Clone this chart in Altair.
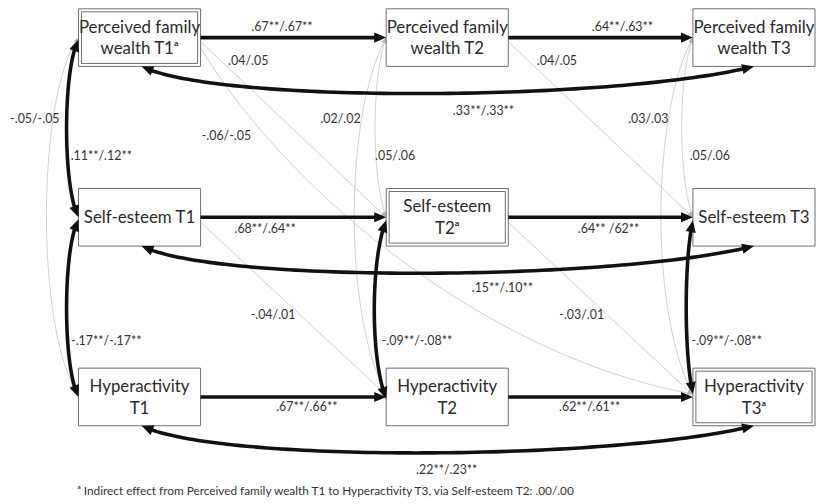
import math
import altair as alt
import pandas as pd

# ------------------------------------------------------------------ content
node_ids = ["PFW1", "PFW2", "PFW3", "SE1", "SE2", "SE3", "HY1", "HY2", "HY3"]
node_labels = [
    "Perceived family\nwealth T1ᵃ", "Perceived family\nwealth T2", "Perceived family\nwealth T3",
    "Self-esteem T1", "Self-esteem\nT2ᵃ", "Self-esteem T3",
    "Hyperactivity\nT1", "Hyperactivity\nT2", "Hyperactivity\nT3ᵃ",
]
node_marked = [True, False, False, False, True, False, False, False, True]

path_from = ["PFW1", "PFW2", "SE1", "SE2", "HY1", "HY2",
             "PFW1", "SE1", "HY1", "PFW1", "SE1",
             "PFW1", "PFW2", "PFW2", "SE2", "PFW3", "PFW3", "SE3",
             "PFW1", "PFW1", "SE1", "PFW2", "SE2"]
path_to = ["PFW2", "PFW3", "SE2", "SE3", "HY2", "HY3",
           "PFW3", "SE3", "HY3", "SE1", "HY1",
           "HY1", "SE2", "HY2", "HY2", "SE3", "HY3", "HY3",
           "SE2", "HY3", "HY2", "SE3", "HY3"]
path_type = ["reg"] * 6 + ["cov"] * 12 + ["reg"] * 5
path_significant = [True] * 11 + [False, False, False, True, False, False, True] + [False] * 5
path_coef = [".67**/.67**", ".64**/.63**", ".68**/.64**", ".64** /62**", ".67**/.66**", ".62**/.61**",
             ".33**/.33**", ".15**/.10**", ".22**/.23**", ".11**/.12**", "-.17**/-.17**",
             "-.05/-.05", ".05/.06", ".02/.02", "-.09**/-.08**", ".05/.06", ".03/.03", "-.09**/-.08**",
             ".04/.05", "-.06/-.05", "-.04/.01", ".04/.05", "-.03/.01"]
footnote = "ᵃ Indirect effect from Perceived family wealth T1 to Hyperactivity T3, via Self-esteem T2: .00/.00"

# ------------------------------------------------------------------ layout (diagram geometry)
COL_LEFT = [79, 389, 698]
ROW_TOP = [7, 188, 369]
BOX_W, BOX_H = 123, 58
INSET = 3
LINE_H = 22
route = (
    [("R", 0, "L", 0, None, None)] * 6
    + [("B", 2, "B", 0, (77, 38), (-140, 35))] * 3
    + [("L", 2, "L", 0, (-16, 30), (-16, -30))] * 2
    + [
        ("L", 0, "L", -3, (-43, 60), (-43, -60)),
        ("L", 0, "L", 0, (-15, 40), (-15, -40)),
        ("L", 0, "L", -3, (-43, 80), (-43, -80)),
        ("L", 3, "L", 2, (-16, 40), (-16, -40)),
        ("L", 0, "L", 0, (-15, 40), (-15, -40)),
        ("L", 0, "L", -3, (-43, 80), (-43, -80)),
        ("L", 3, "L", -3, (-9, 40), (-9, -40)),
        ("R", 4, "L", 0, None, None),
        ("R", 10, "L", -3, (86, 144), (-207, -37)),
        ("R", 5, "L", -2, None, None),
        ("R", 4, "L", 0, None, None),
        ("R", 5, "L", -2, None, None),
    ]
)
label_xy = [(284, 25), (627, 25), (267, 229), (613, 229), (309, 408), (594, 408),
            (487, 110), (506, 288), (450, 472), (102, 155), (107, 342),
            (35, 118), (398, 155), (343, 118), (420, 342), (715, 155), (653, 118), (732, 342),
            (250, 60), (228, 135), (275, 315), (561, 60), (586, 315)]
FOOT_XY = (78, 493)
ARROW = "M0,0L-0.85,2L0.85,2Z"


def box_of(nid):
    k = node_ids.index(nid)
    left = COL_LEFT[k % 3]
    top = ROW_TOP[k // 3]
    return left, top, left + BOX_W, top + BOX_H


def anchor(nid, side, off):
    l, t, r, b = box_of(nid)
    cx, cy = (l + r) / 2, (t + b) / 2
    return {"L": (l, cy + off), "R": (r, cy + off),
            "B": (cx + off, b), "T": (cx + off, t)}[side]


def cubic(p0, p1, p2, p3, n=90):
    pts = []
    for k in range(n + 1):
        t = k / n
        m = 1 - t
        pts.append((m**3 * p0[0] + 3 * m * m * t * p1[0] + 3 * m * t * t * p2[0] + t**3 * p3[0],
                    m**3 * p0[1] + 3 * m * m * t * p1[1] + 3 * m * t * t * p2[1] + t**3 * p3[1]))
    return pts


def trim_end(pts, L):
    acc = 0.0
    i = len(pts) - 1
    while i > 0:
        a, b = pts[i - 1], pts[i]
        seg = math.hypot(b[0] - a[0], b[1] - a[1])
        if acc + seg >= L:
            f = (L - acc) / seg
            newp = (b[0] + (a[0] - b[0]) * f, b[1] + (a[1] - b[1]) * f)
            return pts[:i] + [newp], newp
        acc += seg
        i -= 1
    return pts[:1], pts[0]


def head_angle(base, tip):
    ux, uy = tip[0] - base[0], tip[1] - base[1]
    return math.degrees(math.atan2(ux, -uy)) % 360


line_rows, head_rows, lab_rows = [], [], []
for pid in range(len(path_from)):
    fs, fo, ts, to, c1, c2 = route[pid]
    p0 = anchor(path_from[pid], fs, fo)
    p3 = anchor(path_to[pid], ts, to)
    if c1 is None:
        pts = cubic(p0, ((2 * p0[0] + p3[0]) / 3, (2 * p0[1] + p3[1]) / 3),
                    ((p0[0] + 2 * p3[0]) / 3, (p0[1] + 2 * p3[1]) / 3), p3, n=6)
    else:
        pts = cubic(p0, (p0[0] + c1[0], p0[1] + c1[1]), (p3[0] + c2[0], p3[1] + c2[1]), p3)
    sig = path_significant[pid]
    L = 11 if sig else 5
    kind = "thick" if sig else "thin"
    tip_end = pts[-1]
    pts, base_end = trim_end(pts, L)
    head_rows.append({"x": tip_end[0], "y": tip_end[1], "ang": head_angle(base_end, tip_end), "kind": kind})
    if path_type[pid] == "cov":
        tip_start = pts[0]
        rev, base_start = trim_end(pts[::-1], L)
        pts = rev[::-1]
        head_rows.append({"x": tip_start[0], "y": tip_start[1],
                          "ang": head_angle(base_start, tip_start), "kind": kind})
    for i, (x, y) in enumerate(pts):
        line_rows.append({"pid": pid, "i": i, "x": x, "y": y, "kind": kind})
    lab_rows.append({"x": label_xy[pid][0], "y": label_xy[pid][1], "text": path_coef[pid]})

box_rows, node_rows = [], []
for k, nid in enumerate(node_ids):
    l, t, r, b = box_of(nid)
    box_rows.append({"x": l, "x2": r, "y": t, "y2": b})
    if node_marked[k]:
        box_rows.append({"x": l + INSET, "x2": r - INSET, "y": t + INSET, "y2": b - INSET})
    n_lines = node_labels[k].count("\n") + 1
    node_rows.append({"x": (l + r) / 2, "y": (t + b) / 2 + 1 - (n_lines - 1) * LINE_H / 2,
                      "text": node_labels[k]})

lines = pd.DataFrame(line_rows)
heads = pd.DataFrame(head_rows)
labs = pd.DataFrame(lab_rows)
boxes = pd.DataFrame(box_rows)
nodes = pd.DataFrame(node_rows)
foot = pd.DataFrame([{"x": FOOT_XY[0], "y": FOOT_XY[1], "text": footnote}])

X = alt.X("x:Q", scale=alt.Scale(domain=[8, 822], nice=False, zero=False), axis=None)
Y = alt.Y("y:Q", scale=alt.Scale(domain=[8, 502], nice=False, zero=False, reverse=True), axis=None)

thin_lines = alt.Chart(lines[lines.kind == "thin"]).mark_line(
    color="#c2c2c2", strokeWidth=0.8).encode(x=X, y=Y, detail="pid:N", order="i:Q")
thick_lines = alt.Chart(lines[lines.kind == "thick"]).mark_line(
    color="#111111", strokeWidth=3.6).encode(x=X, y=Y, detail="pid:N", order="i:Q")
box_layer = alt.Chart(boxes).mark_rect(fill="white", stroke="#6e6e6e", strokeWidth=1).encode(
    x=X, x2="x2:Q", y=Y, y2="y2:Q")
thin_heads = alt.Chart(heads[heads.kind == "thin"]).mark_point(
    shape=ARROW, filled=True, size=30, color="#b5b5b5", opacity=1, strokeWidth=0).encode(
    x=X, y=Y, angle=alt.Angle("ang:Q", scale=None))
thick_heads = alt.Chart(heads[heads.kind == "thick"]).mark_point(
    shape=ARROW, filled=True, size=144, color="#111111", opacity=1, strokeWidth=0).encode(
    x=X, y=Y, angle=alt.Angle("ang:Q", scale=None))
coef_text = alt.Chart(labs).mark_text(
    font="Lato", fontSize=12.5, color="#333333", align="center", baseline="middle").encode(
    x=X, y=Y, text="text:N")
node_text = alt.Chart(nodes).mark_text(
    font="Lato", fontSize=17, color="#2a2a2a", align="center", baseline="middle",
    lineBreak="\n", lineHeight=LINE_H).encode(x=X, y=Y, text="text:N")
foot_text = alt.Chart(foot).mark_text(
    font="Lato", fontSize=11.9, color="#333333", align="left", baseline="middle").encode(
    x=X, y=Y, text="text:N")

chart = alt.layer(
    thin_lines, thin_heads, box_layer, thick_lines, thick_heads, coef_text, node_text, foot_text
).properties(
    width=814, height=494, padding=0, autosize=alt.AutoSizeParams(type="none"),
    background="white"
).configure_view(stroke=None)

chart.save("out.html", embed_options={"renderer": "svg", "actions": False})
